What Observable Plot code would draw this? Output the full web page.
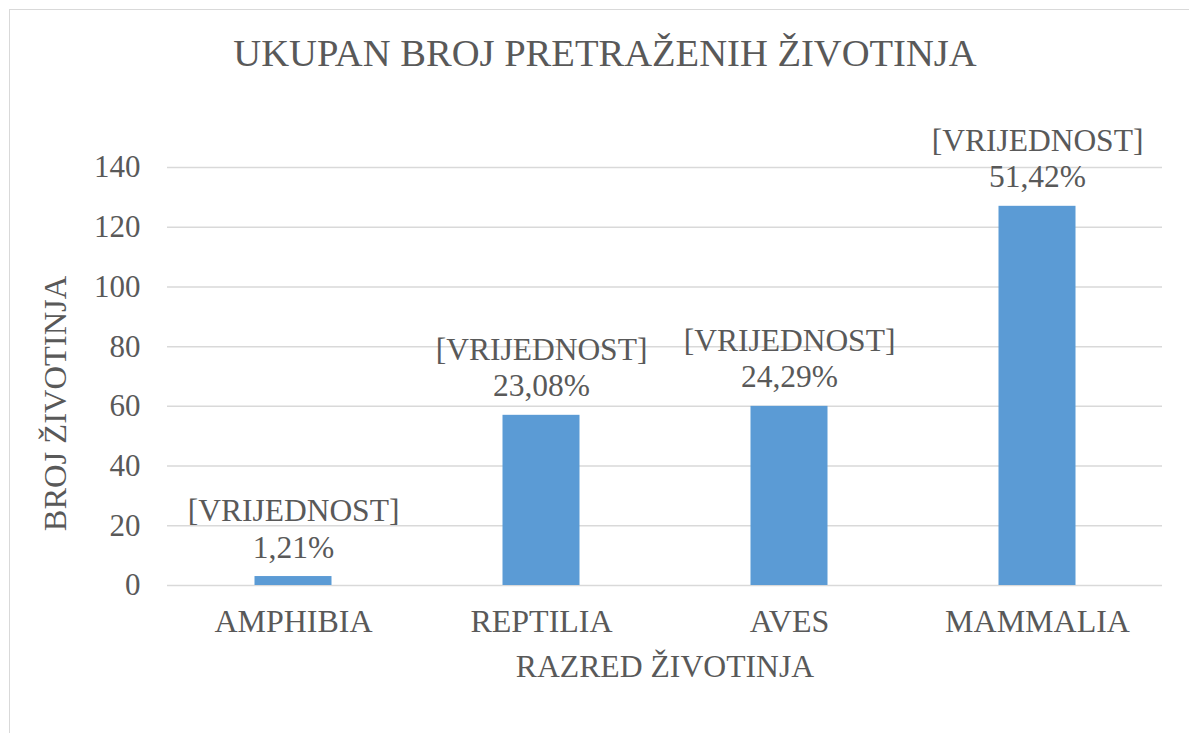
<!DOCTYPE html>
<html>
<head>
<meta charset="utf-8">
<script src="https://cdn.jsdelivr.net/npm/d3@7"></script>
<script src="https://cdn.jsdelivr.net/npm/@observablehq/plot@0.6"></script>
<style>
  html, body { margin: 0; padding: 0; background: #fff; overflow: hidden; }
  #wrap { position: relative; width: 1189px; height: 733px; overflow: hidden; }
  #frame { position: absolute; left: 9px; top: 9px; width: 1300px; height: 900px;
           border-top: 1.5px solid #d9d9d9; border-left: 1.5px solid #d9d9d9; box-sizing: border-box; }
  #chart { position: absolute; left: 0; top: 0; }
</style>
</head>
<body>
<div id="wrap"><div id="frame"></div><div id="chart"></div></div>
<script>
const title = "UKUPAN BROJ PRETRAŽENIH ŽIVOTINJA";
const yTitle = "BROJ ŽIVOTINJA";
const xTitle = "RAZRED ŽIVOTINJA";
const categories = ["AMPHIBIA", "REPTILIA", "AVES", "MAMMALIA"];
const counts = [3, 57, 60, 127];
const percentLabels = ["1,21%", "23,08%", "24,29%", "51,42%"];
const labelPrefix = "[VRIJEDNOST]";
const yTicks = [0, 20, 40, 60, 80, 100, 120, 140];

const data = categories.map((c, i) => ({cat: c, value: counts[i], pct: percentLabels[i]}));

const ff = "Liberation Serif";
const grey = "#595959";

const chart = Plot.plot({
  width: 1189,
  height: 733,
  marginLeft: 167,
  marginRight: 27,
  marginTop: 167,
  marginBottom: 148,
  style: {background: "transparent", overflow: "visible"},
  x: {domain: categories, padding: 0, label: null},
  y: {domain: [0, 140], label: null},
  marks: [
    Plot.gridY(yTicks, {stroke: "#d9d9d9", strokeOpacity: 1, strokeWidth: 1.5}),
    Plot.barY(data, {x: "cat", y: "value", fill: "#5b9bd5", insetLeft: 85.5, insetRight: 85.5}),
    Plot.axisY(yTicks, {tickSize: 0, tickPadding: 27, fontSize: 31, fontFamily: ff, fill: grey, label: null}),
    Plot.axisX({tickSize: 0, tickPadding: 24, fontSize: 32, fontFamily: ff, fill: grey, label: null}),
    Plot.text(data, {x: "cat", y: "value", text: d => labelPrefix + "\n" + d.pct,
      lineAnchor: "bottom", lineHeight: 1.15, dy: -19, fontSize: 31.5, fontFamily: ff, fill: grey}),
    Plot.text([title], {frameAnchor: "top", text: d => d, dx: -60, dy: -114, lineAnchor: "middle", fontSize: 38.6, fontFamily: ff, fill: grey}),
    Plot.text([yTitle], {frameAnchor: "left", text: d => d, rotate: -90, textAnchor: "middle", dx: -112, dy: 27, lineAnchor: "middle", fontSize: 32.5, fontFamily: ff, fill: grey}),
    Plot.text([xTitle], {frameAnchor: "bottom", text: d => d, dy: 81, lineAnchor: "middle", fontSize: 31.7, fontFamily: ff, fill: grey})
  ]
});
document.getElementById("chart").appendChild(chart);
</script>
</body>
</html>
